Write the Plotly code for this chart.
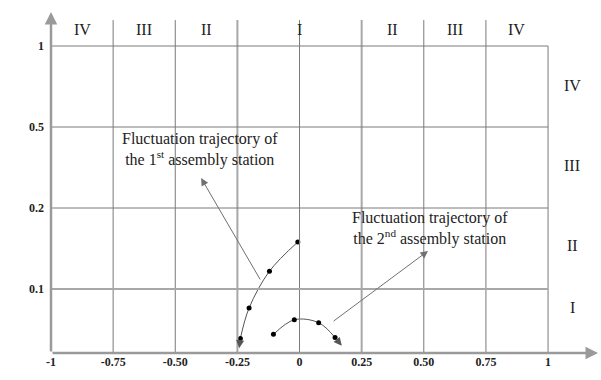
import plotly.graph_objects as go

# Axis definitions
x_ticks = [-1, -0.75, -0.5, -0.25, 0, 0.25, 0.5, 0.75, 1]
x_ticktext = ["-1", "-0.75", "-0.50", "-0.25", "0", "0.25", "0.50", "0.75", "1"]
y_levels = [1, 2, 3, 4]                 # positions of the level boundaries
y_ticktext = ["0.1", "0.2", "0.5", "1"]  # displayed Δs values

# Region labels
top_region_x = [-0.875, -0.625, -0.375, 0.0, 0.375, 0.625, 0.875]
top_region_text = ["IV", "III", "II", "I", "II", "III", "IV"]
right_region_y = [3.51, 2.53, 1.54, 0.77]
right_region_text = ["IV", "III", "II", "I"]

# Trajectory of 1st assembly station (position units on the y axis)
traj1_x = [-0.007, -0.121, -0.203, -0.238]
traj1_y = [1.58, 1.22, 0.765, 0.39]
traj1_end = (-0.243, 0.27)

# Trajectory of 2nd assembly station
traj2_x = [-0.105, -0.021, 0.077, 0.143]
traj2_y = [0.44, 0.62, 0.584, 0.40]
traj2_end = (0.17, 0.30)

Y0 = 0.21
Y_TOP = 4.32
X_MAX = 1.209
Y_MAX = 4.568

SERIF = "Liberation Serif, Times New Roman, DejaVu Serif, serif"
GRID = "#7a7a7a"

fig = go.Figure()

for tx, ty in [(traj1_x, traj1_y), (traj2_x, traj2_y)]:
    fig.add_trace(go.Scatter(
        x=tx, y=ty, mode="lines+markers",
        line=dict(color="#555555", width=1, shape="spline", smoothing=1.0),
        marker=dict(color="black", size=5),
        showlegend=False, hoverinfo="skip"))

shapes = []
# vertical grid lines (extend above the top row for region labels)
for xv in x_ticks[1:]:
    thick = xv in (-0.25, 0.25)
    top = Y_TOP if xv != 1 else y_levels[-1]
    shapes.append(dict(type="line", xref="x", yref="y", x0=xv, x1=xv, y0=Y0, y1=top,
                       line=dict(color="#a8a8a8" if thick else GRID, width=2 if thick else 1)))
# horizontal grid lines
for yv in y_levels:
    thick = yv == 1
    shapes.append(dict(type="line", xref="x", yref="y", x0=-1, x1=1, y0=yv, y1=yv,
                       line=dict(color="#a8a8a8" if thick else GRID, width=2 if thick else 1)))

annotations = []
# axes with arrows
annotations.append(dict(x=-1, y=4.42, ax=-1, ay=Y0, xref="x", yref="y", axref="x", ayref="y",
                        showarrow=True, arrowhead=2, arrowsize=1, arrowwidth=2.5,
                        arrowcolor="#9a9a9a", text=""))
annotations.append(dict(x=1.201, y=Y0, ax=-1, ay=Y0, xref="x", yref="y", axref="x", ayref="y",
                        showarrow=True, arrowhead=2, arrowsize=1, arrowwidth=2.5,
                        arrowcolor="#9a9a9a", text=""))
# trajectory end arrows
for tx, ty, end in [(traj1_x, traj1_y, traj1_end), (traj2_x, traj2_y, traj2_end)]:
    annotations.append(dict(x=end[0], y=end[1], ax=tx[-1], ay=ty[-1], xref="x", yref="y",
                            axref="x", ayref="y", showarrow=True, arrowhead=2, arrowsize=1.6,
                            arrowwidth=1, arrowcolor="#555555", text=""))
# pointer arrows to captions
annotations.append(dict(x=-0.396, y=2.37, ax=-0.155, ay=1.10, xref="x", yref="y", axref="x",
                        ayref="y", showarrow=True, arrowhead=2, arrowsize=1.5, arrowwidth=1,
                        arrowcolor="#707070", text=""))
annotations.append(dict(x=0.517, y=1.47, ax=0.131, ay=0.59, xref="x", yref="y", axref="x",
                        ayref="y", showarrow=True, arrowhead=2, arrowsize=1.5, arrowwidth=1,
                        arrowcolor="#707070", text=""))
# captions
annotations.append(dict(x=-0.40, y=2.72, xref="x", yref="y", showarrow=False,
                        text="Fluctuation trajectory of<br>the 1<sup>st</sup> assembly station",
                        font=dict(family=SERIF, size=16, color="#222"), align="center"))
annotations.append(dict(x=0.525, y=1.75, xref="x", yref="y", showarrow=False,
                        text="Fluctuation trajectory of<br>the 2<sup>nd</sup> assembly station",
                        font=dict(family=SERIF, size=16, color="#222"), align="center"))
# region labels
for xv, t in zip(top_region_x, top_region_text):
    annotations.append(dict(x=xv, y=4.2, xref="x", yref="y", showarrow=False, text=t,
                            font=dict(family=SERIF, size=16, color="#222")))
for yv, t in zip(right_region_y, right_region_text):
    annotations.append(dict(x=1.097, y=yv, xref="x", yref="y", showarrow=False, text=t,
                            font=dict(family=SERIF, size=16, color="#222")))
# axis titles
annotations.append(dict(x=-1.125, y=2.35, xref="x", yref="y", showarrow=False,
                        text="Δ<i>s</i><sub><i>ij</i></sub>",
                        font=dict(family=SERIF, size=17, color="#333")))
annotations.append(dict(x=1.14, y=0.02, xref="x", yref="y", showarrow=False,
                        text="Δ<i>d</i><sub><i>ij</i></sub>",
                        font=dict(family=SERIF, size=17, color="#333")))

fig.update_layout(
    width=601, height=380,
    margin=dict(l=51, r=1, t=0, b=27),
    paper_bgcolor="white", plot_bgcolor="white",
    shapes=shapes, annotations=annotations,
    xaxis=dict(range=[-1, X_MAX], tickvals=x_ticks, ticktext=x_ticktext,
               showgrid=False, zeroline=False, showline=False, ticks="",
               tickfont=dict(family=SERIF, size=12, color="#222", weight="bold")),
    yaxis=dict(range=[Y0, Y_MAX], tickvals=y_levels, ticktext=y_ticktext,
               showgrid=False, zeroline=False, showline=False, ticks="",
               ticklabelstandoff=6,
               tickfont=dict(family=SERIF, size=12, color="#222", weight="bold")),
)

fig.write_html("out.html")
